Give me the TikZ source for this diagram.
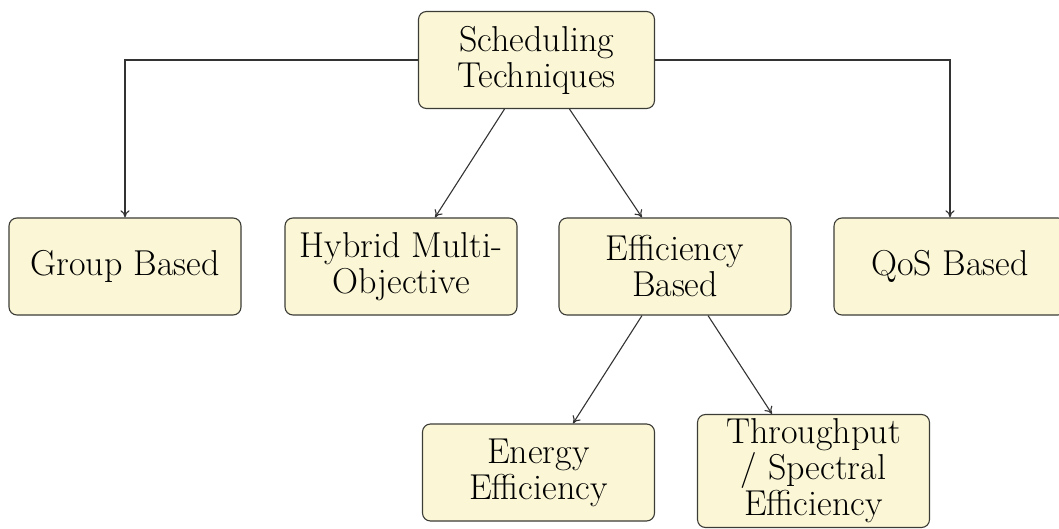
\documentclass[tikz,border=0pt]{standalone}
\usetikzlibrary{calc,arrows.meta}
\definecolor{boxfill}{RGB}{251,247,214}
\definecolor{boxline}{RGB}{60,60,55}
\begin{document}
\begin{tikzpicture}[x=0.5pt,y=-0.5pt,
  box/.style={draw=boxline,line width=0.55pt,fill=boxfill,rounded corners=4pt,
    minimum width=116pt,minimum height=48.5pt,align=center,inner sep=1pt,
    font=\fontsize{18}{18}\selectfont},
  arr/.style={draw=black!80,line width=0.55pt,-{To[length=3.6pt,width=4.6pt]}}]
\useasboundingbox (0,0) rectangle (1059,529);
\begin{scope}
\clip (0,0) rectangle (1059,529);
\node[box,minimum width=118pt] (top) at (536.5,60) {Scheduling\\Techniques};
\node[box] (group) at (125,266.5) {Group Based};
\node[box] (hybrid) at (401,266.5) {Hybrid Multi-\\Objective};
\node[box] (eff) at (675,266.5) {Efficiency\\Based};
\node[box] (qos) at (950,266.5) {QoS Based};
\node[box] (energy) at (538.5,472.5) {Energy\\Efficiency};
\node[box,minimum height=56.5pt] (thru) at (813.5,471) {Throughput\\/ Spectral\\Efficiency};
\end{scope}
\draw[arr] (top.west) -| (group.north);
\draw[arr] (top.east) -| (qos.north);
\draw[arr] ($(top.south)+(-32,0)$) -- ($(hybrid.north)+(34,0)$);
\draw[arr] ($(top.south)+(33,0)$) -- ($(eff.north)+(-33,0)$);
\draw[arr] ($(eff.south)+(-33,0)$) -- ($(energy.north)+(34.5,0)$);
\draw[arr] ($(eff.south)+(33,0)$) -- ($(thru.north)+(-41.5,0)$);
\end{tikzpicture}
\end{document}
